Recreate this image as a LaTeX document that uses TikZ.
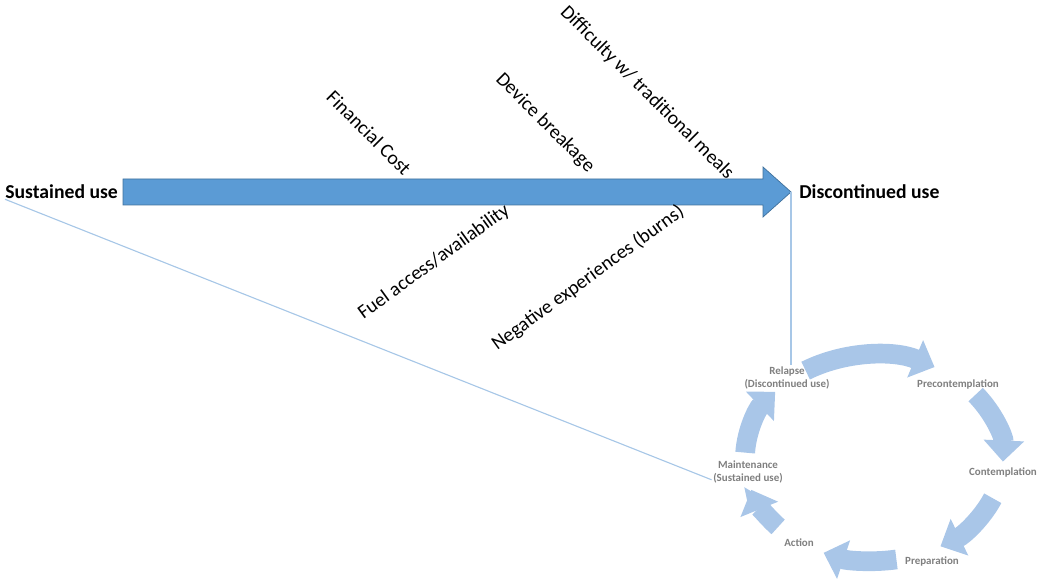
\documentclass[tikz,border=0pt]{standalone}
\usepackage{fontspec}
\setmainfont{Carlito}
\usetikzlibrary{arrows.meta,calc}
\definecolor{mainblue}{HTML}{5B9BD5}
\definecolor{edgeblue}{HTML}{41719C}
\definecolor{paleblue}{HTML}{A9C6E8}
\definecolor{linkblue}{HTML}{A7C7E7}
\definecolor{stagegray}{HTML}{7F7F7F}
\tikzset{
  endlabel/.style={
    text=black,
    font=\bfseries\fontsize{14}{17}\selectfont,
    anchor=west,
    inner sep=0pt
  },
  barrier/.style={
    text=black,
    font=\fontsize{14}{17}\selectfont,
    inner sep=0pt
  },
  stage/.style={
    text=stagegray,
    font=\bfseries\fontsize{7.8}{9.4}\selectfont,
    align=center,
    inner sep=1pt
  },
  mainarrow/.style={
    fill=mainblue,
    draw=edgeblue,
    line width=0.5pt
  },
  link/.style={
    draw=linkblue,
    line width=0.8pt
  },
  cycleflow/.style={
    draw=paleblue,
    line width=14pt,
    -{Triangle[length=15pt,width=28pt,fill=paleblue]}
  }
}
\begin{document}
\begin{tikzpicture}[x=0.025cm,y=0.025cm]
  \useasboundingbox (0,0) rectangle (1050,580);

  % Ends of the main arrow
  \node[endlabel] (sus) at (5,388) {Sustained use};
  \node[endlabel] (dis) at (799,388) {Discontinued use};

  % Main arrow
  \coordinate (tail) at (123,388);
  \coordinate (tip) at (791,388);
  \filldraw[mainarrow] (tail) ++(0,13) -- ++(640,0) -- ++(0,12) -- (tip)
    -- ++(-28,-25) -- ++(0,12) -- ++(-640,0) -- cycle;

  % Barriers
  \node[barrier, rotate=-45] (cost) at (369,447) {Financial Cost};
  \node[barrier, rotate=-45] (break) at (545,457) {Device breakage};
  \node[barrier, rotate=-45] (meals) at (647,487) {Difficulty w/ traditional meals};
  \node[barrier, rotate=36] (fuel) at (434,318) {Fuel access/availability};
  \node[barrier, rotate=36] (burns) at (588,302) {Negative experiences (burns)};

  % Stages of change
  \node[stage] (relapse) at (787,202) {Relapse\\(Discontinued use)};
  \node[stage] (precon) at (958,195) {Precontemplation};
  \node[stage] (contem) at (1003,107) {Contemplation};
  \node[stage] (prep) at (932,18) {Preparation};
  \node[stage] (action) at (799,37) {Action};
  \node[stage] (maint) at (748,108) {Maintenance\\(Sustained use)};

  % Cycle arrows
  \coordinate (hub) at (874,122);
  \foreach \a/\b in {122/62, 38/-2, -23/-59, -80/-113, -138/-162, 177/140}
    \draw[cycleflow] ($(hub)+({129*cos(\a)},{103*sin(\a)})$)
      arc[start angle=\a, end angle=\b, x radius=129, y radius=103];

  % Links to the cycle
  \draw[link] (tip) -- (tip |- relapse.north);
  \draw[link] (sus.south west) -- ($(maint.west)!0.6!(maint.south west)$);
\end{tikzpicture}
\end{document}
